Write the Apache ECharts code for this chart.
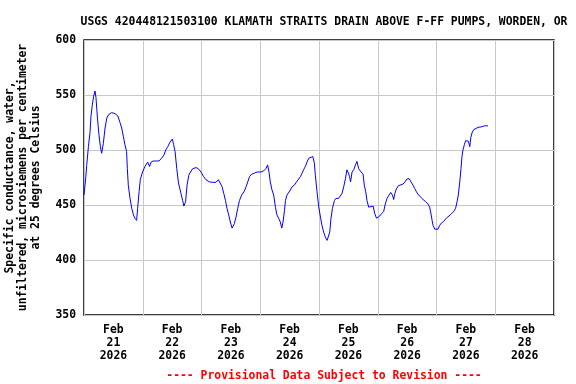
<!DOCTYPE html>
<html>
<head>
<meta charset="utf-8">
<script src="https://cdn.jsdelivr.net/npm/echarts@6/dist/echarts.min.js"></script>
<style>html,body{margin:0;padding:0;background:#fff}#c{width:576px;height:384px}</style>
</head>
<body>
<div id="c"></div>
<script>
const titleText = 'USGS 420448121503100 KLAMATH STRAITS DRAIN ABOVE F-FF PUMPS, WORDEN, OR';
const footerText = '---- Provisional Data Subject to Revision ----';
const yName = 'Specific conductance, water,\nunfiltered, microsiemens per centimeter\nat 25 degrees Celsius';
const dayLabels = ['Feb\n21\n2026','Feb\n22\n2026','Feb\n23\n2026','Feb\n24\n2026','Feb\n25\n2026','Feb\n26\n2026','Feb\n27\n2026','Feb\n28\n2026'];
const yTicks = [350, 400, 450, 500, 550, 600];
// hours since Feb 21 2026 00:00
const hours = [0,0.7,1.1,1.8,2.45,2.86,3.4,3.96,4.5,4.9,5.5,6.1,6.7,7.2,7.9,8.6,9.3,10.0,11.3,12.7,13.8,14.7,15.4,16.1,16.7,17.4,17.7,18.1,18.8,19.5,20.2,20.8,21.5,21.9,22.5,23.0,23.9,24.9,26.0,26.8,27.4,28.3,29.7,30.6,31.7,32.7,33.4,34.2,35.1,36.1,36.6,37.2,37.9,38.6,39.6,
40.3,40.8,41.5,42.1,42.8,43.5,44.4,45.8,46.7,47.8,48.9,49.8,51.2,52.6,53.9,54.9,55.7,56.4,57.1,57.8,58.4,59.1,59.8,60.5,60.9,61.4,62.1,62.8,63.5,64.4,65.5,66.2,66.9,67.6,68.5,69.6,70.7,72.3,73.4,74.3,75.0,75.6,76.1,76.8,77.5,78.2,78.8,
79.5,80.2,80.8,81.3,81.9,82.3,82.9,83.6,84.3,85.0,85.9,86.8,87.7,88.4,89.1,89.7,90.4,91.1,91.8,92.5,93.5,94.1,94.5,95.2,95.9,96.6,97.2,97.9,98.6,99.3,99.8,100.4,100.9,101.5,102.3,102.9,104.0,104.7,105.4,106.1,106.8,107.4,108.0,108.5,108.9,109.5,110.2,110.9,111.5,112.2,113.2,114.0,114.5,115.1,115.6,116.3,117.0,118.1,
118.8,119.5,120.1,120.8,121.5,122.4,123.1,123.8,124.6,125.3,126.0,126.5,127.0,127.6,128.4,129.2,130.3,131.1,131.9,132.8,133.6,134.4,135.1,135.8,136.4,137.4,138.5,139.6,140.5,141.2,141.6,142.2,142.6,143.3,144.0,144.6,145.3,146.0,146.9,148.0,149.1,150.1,151.0,151.8,152.4,152.9,153.5,154.0,154.4,154.8,155.4,155.9,156.5,157.0,157.6,158.0,158.5,159.2,160.0,161.0,162.3,163.7,165.0];
const conductance = [459,474.5,486,503,516,531,541,549,553.6,547.5,529,514,503,497,506,520,529,532,534,533,531,525,520,512,505,498.6,483,468,456,447,441,438,436,447,462,473,480,485,489,485,489,490,490,490,492.5,495.6,500,503,507,510,505,498.6,483,470,460.5,
454,449,453,468,477,480,483,484,483,480,475.7,473,471,470.6,470.6,473,473.5,466.6,460.5,454,447,441,434.5,429,428,433,439,447,454,459,462.6,466.6,471,475.7,478,479,480,480,481,483,486.5,479.7,471,463.6,459,448,441,
438,434.5,429,434.5,445,454,459,460.5,463.6,466.6,468,471,473.6,475.7,479,482,485,489,492.5,494,494,488,477,462,448,439,431.5,425.4,420.8,417.8,416.2,425.4,438,447,454,456,456,457.4,460.5,466.6,474,482,479,475.7,471,480,482,486.5,489.6,483,480,478,468,462,454,448,447,449,
442,438,437,440,442,444,451,456,459,461.4,459,455,460.5,464.5,467.5,469,469,471,473.6,474,473,468,465,462,460,457.4,455,453,451,448,443.7,436,431.5,428,426.3,428,431.5,433.6,435,438,440,442,444,447,453,459,471,483,494,500,505,508.5,510,508,503,511,515.5,518.5,520,520.6,521,522,522];

const FONT = '"DejaVu Sans Mono", monospace';
const chart = echarts.init(document.getElementById('c'), null, {renderer: 'canvas'});
chart.setOption({
  animation: false,
  backgroundColor: '#fff',
  title: [
    {text: titleText, left: 319, top: 12, textAlign: 'center',
     textStyle: {fontFamily: FONT, fontSize: 11.4, fontWeight: 'bold', color: '#000'}},
    {text: footerText, left: 319, top: 366, textAlign: 'center',
     textStyle: {fontFamily: FONT, fontSize: 11.4, fontWeight: 'bold', color: '#ff0000'}}
  ],
  grid: {left: 84, right: 22, top: 40, bottom: 69, show: true, borderColor: '#000', borderWidth: 1.5, backgroundColor: 'transparent', outerBoundsMode: 'none', containLabel: false},
  xAxis: [
    {type: 'value', min: 0, max: 192, interval: 24,
     axisLine: {show: false}, axisTick: {show: false}, axisLabel: {show: false},
     splitLine: {show: true, lineStyle: {color: '#c8c8c8', width: 1}}},
    {type: 'category', data: dayLabels, position: 'bottom', boundaryGap: true,
     axisLine: {show: false}, axisTick: {show: false}, splitLine: {show: false},
     axisLabel: {margin: 8, lineHeight: 13.3, fontFamily: FONT, fontSize: 11.4, fontWeight: 'bold', color: '#000', interval: 0}}
  ],
  yAxis: {
    type: 'value', min: yTicks[0], max: yTicks[yTicks.length-1], interval: 50,
    name: yName, nameLocation: 'middle', nameRotate: 90, nameGap: 41,
    nameTextStyle: {fontFamily: FONT, fontSize: 11.4, fontWeight: 'bold', color: '#000', lineHeight: 13.3, align: 'center'},
    axisLine: {show: false}, axisTick: {show: false},
    axisLabel: {margin: 8, fontFamily: FONT, fontSize: 11.4, fontWeight: 'bold', color: '#000'},
    splitLine: {show: true, lineStyle: {color: '#c8c8c8', width: 1}}
  },
  series: [{
    type: 'line', xAxisIndex: 0, showSymbol: false, symbol: 'none',
    data: hours.map((h, i) => [h, conductance[i]]),
    lineStyle: {color: '#0000ff', width: 1}
  }]
});
</script>
</body>
</html>
